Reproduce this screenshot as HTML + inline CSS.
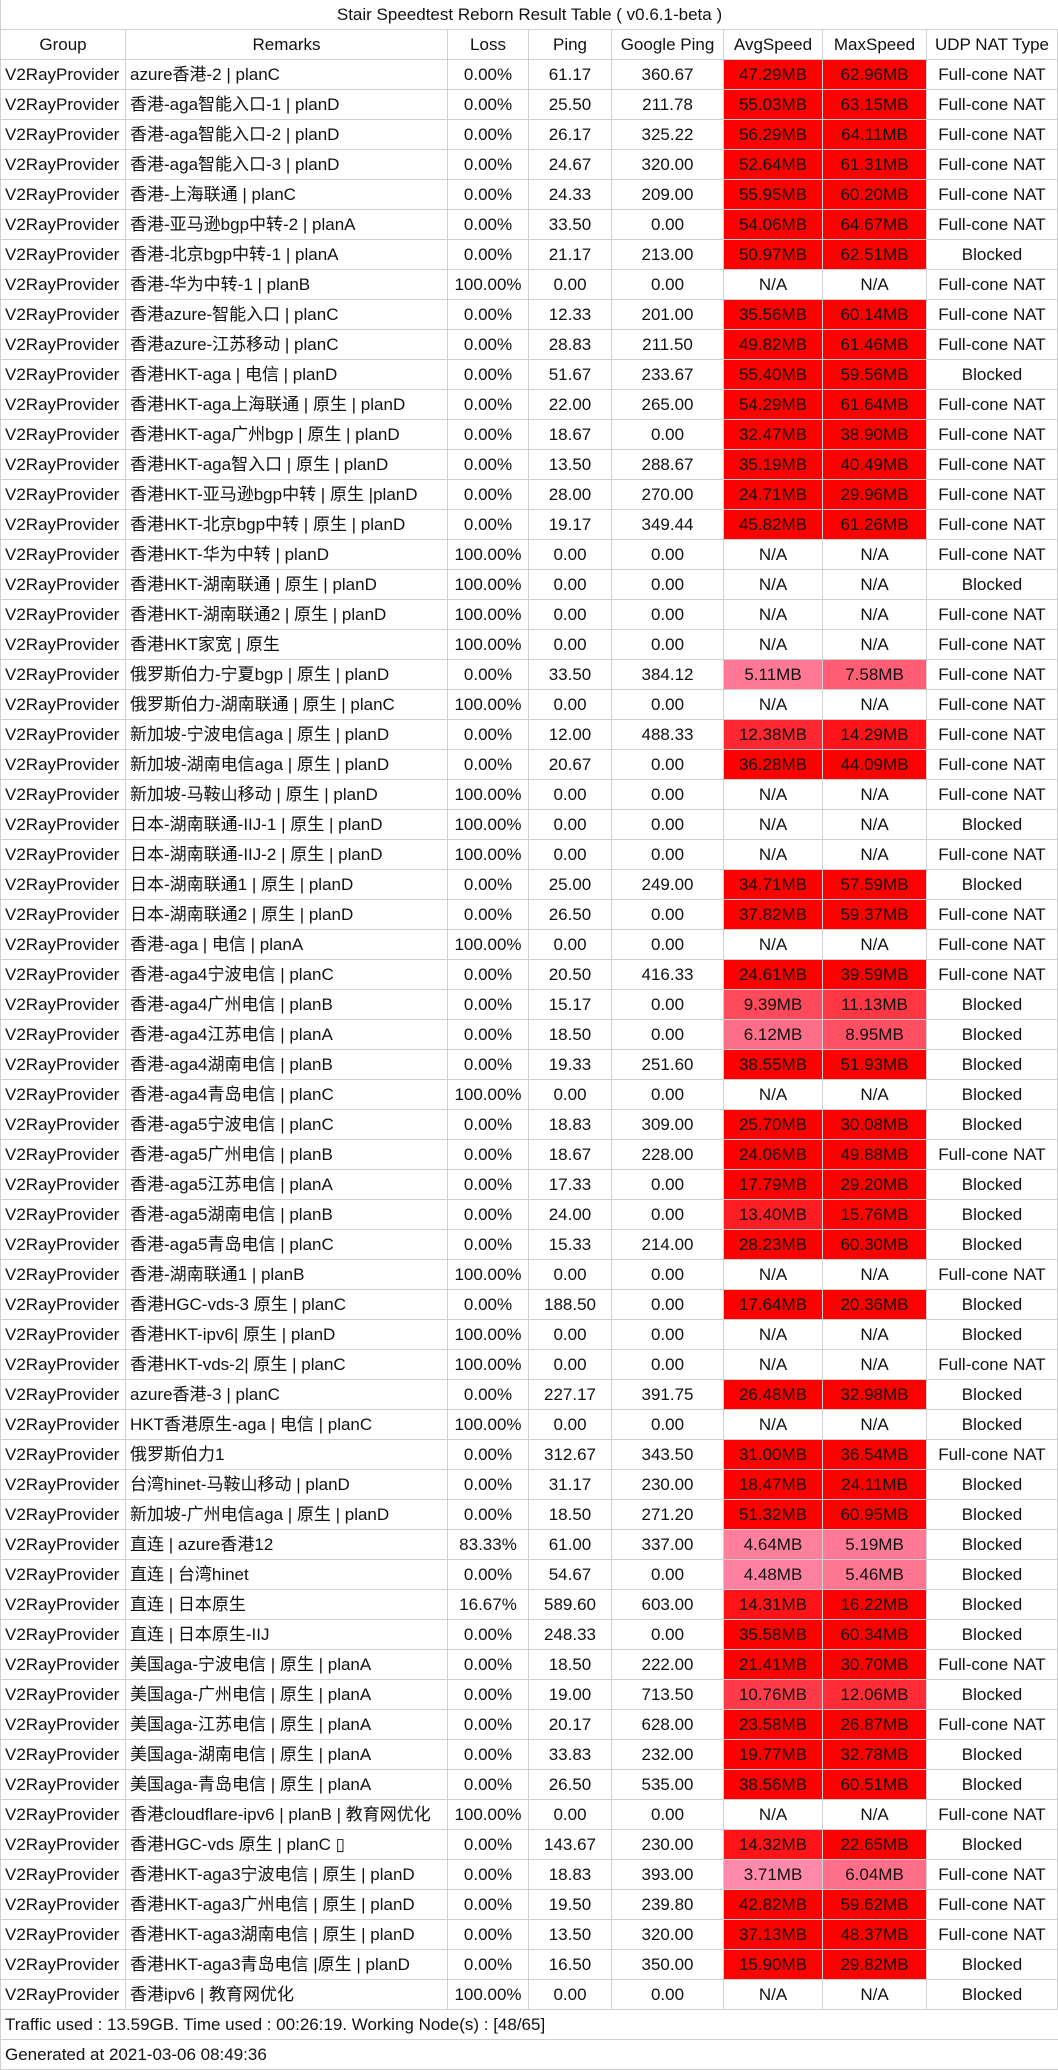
<!DOCTYPE html>
<html><head><meta charset="utf-8">
<style>
html,body{margin:0;padding:0;background:#fff;}
body{width:1058px;height:2070px;position:relative;overflow:hidden;font-family:"Liberation Sans","Noto Sans CJK SC",sans-serif;font-size:17px;color:#111;}
.row{position:absolute;left:0;width:1058px;height:30px;}
.c{position:absolute;top:0;height:29px;line-height:29px;border-right:1px solid #d0d0d0;border-bottom:1px solid #d0d0d0;text-align:center;white-space:nowrap;overflow:hidden;box-sizing:content-box;}
.l{text-align:left;padding-left:4px;}
#wrap{position:absolute;left:0;top:0;width:1057px;height:2070px;border-left:1px solid #d0d0d0;}
</style></head><body>
<div id="wrap"></div>
<script>
const remarks=["azure香港-2 | planC","香港-aga智能入口-1 | planD","香港-aga智能入口-2 | planD","香港-aga智能入口-3 | planD","香港-上海联通 | planC","香港-亚马逊bgp中转-2 | planA","香港-北京bgp中转-1 | planA","香港-华为中转-1 | planB","香港azure-智能入口 | planC","香港azure-江苏移动 | planC","香港HKT-aga | 电信 | planD","香港HKT-aga上海联通 | 原生 | planD","香港HKT-aga广州bgp | 原生 | planD","香港HKT-aga智入口 | 原生 | planD","香港HKT-亚马逊bgp中转 | 原生 |planD","香港HKT-北京bgp中转 | 原生 | planD","香港HKT-华为中转 | planD","香港HKT-湖南联通 | 原生 | planD","香港HKT-湖南联通2 | 原生 | planD","香港HKT家宽 | 原生","俄罗斯伯力-宁夏bgp | 原生 | planD","俄罗斯伯力-湖南联通 | 原生 | planC","新加坡-宁波电信aga | 原生 | planD","新加坡-湖南电信aga | 原生 | planD","新加坡-马鞍山移动 | 原生 | planD","日本-湖南联通-IIJ-1 | 原生 | planD","日本-湖南联通-IIJ-2 | 原生 | planD","日本-湖南联通1 | 原生 | planD","日本-湖南联通2 | 原生 | planD","香港-aga | 电信 | planA","香港-aga4宁波电信 | planC","香港-aga4广州电信 | planB","香港-aga4江苏电信 | planA","香港-aga4湖南电信 | planB","香港-aga4青岛电信 | planC","香港-aga5宁波电信 | planC","香港-aga5广州电信 | planB","香港-aga5江苏电信 | planA","香港-aga5湖南电信 | planB","香港-aga5青岛电信 | planC","香港-湖南联通1 | planB","香港HGC-vds-3 原生 | planC","香港HKT-ipv6| 原生 | planD","香港HKT-vds-2| 原生 | planC","azure香港-3 | planC","HKT香港原生-aga | 电信 | planC","俄罗斯伯力1","台湾hinet-马鞍山移动 | planD","新加坡-广州电信aga | 原生 | planD","直连 | azure香港12","直连 | 台湾hinet","直连 | 日本原生","直连 | 日本原生-IIJ","美国aga-宁波电信 | 原生 | planA","美国aga-广州电信 | 原生 | planA","美国aga-江苏电信 | 原生 | planA","美国aga-湖南电信 | 原生 | planA","美国aga-青岛电信 | 原生 | planA","香港cloudflare-ipv6 | planB | 教育网优化","香港HGC-vds 原生 | planC ▯","香港HKT-aga3宁波电信 | 原生 | planD","香港HKT-aga3广州电信 | 原生 | planD","香港HKT-aga3湖南电信 | 原生 | planD","香港HKT-aga3青岛电信 |原生 | planD","香港ipv6 | 教育网优化"];
const loss=["0.00%","0.00%","0.00%","0.00%","0.00%","0.00%","0.00%","100.00%","0.00%","0.00%","0.00%","0.00%","0.00%","0.00%","0.00%","0.00%","100.00%","100.00%","100.00%","100.00%","0.00%","100.00%","0.00%","0.00%","100.00%","100.00%","100.00%","0.00%","0.00%","100.00%","0.00%","0.00%","0.00%","0.00%","100.00%","0.00%","0.00%","0.00%","0.00%","0.00%","100.00%","0.00%","100.00%","100.00%","0.00%","100.00%","0.00%","0.00%","0.00%","83.33%","0.00%","16.67%","0.00%","0.00%","0.00%","0.00%","0.00%","0.00%","100.00%","0.00%","0.00%","0.00%","0.00%","0.00%","100.00%"];
const ping=[61.17,25.50,26.17,24.67,24.33,33.50,21.17,0,12.33,28.83,51.67,22.00,18.67,13.50,28.00,19.17,0,0,0,0,33.50,0,12.00,20.67,0,0,0,25.00,26.50,0,20.50,15.17,18.50,19.33,0,18.83,18.67,17.33,24.00,15.33,0,188.50,0,0,227.17,0,312.67,31.17,18.50,61.00,54.67,589.60,248.33,18.50,19.00,20.17,33.83,26.50,0,143.67,18.83,19.50,13.50,16.50,0];
const gping=[360.67,211.78,325.22,320.00,209.00,0,213.00,0,201.00,211.50,233.67,265.00,0,288.67,270.00,349.44,0,0,0,0,384.12,0,488.33,0,0,0,0,249.00,0,0,416.33,0,0,251.60,0,309.00,228.00,0,0,214.00,0,0,0,0,391.75,0,343.50,230.00,271.20,337.00,0,603.00,0,222.00,713.50,628.00,232.00,535.00,0,230.00,393.00,239.80,320.00,350.00,0];
const avgSpeed=[47.29,55.03,56.29,52.64,55.95,54.06,50.97,null,35.56,49.82,55.40,54.29,32.47,35.19,24.71,45.82,null,null,null,null,5.11,null,12.38,36.28,null,null,null,34.71,37.82,null,24.61,9.39,6.12,38.55,null,25.70,24.06,17.79,13.40,28.23,null,17.64,null,null,26.48,null,31.00,18.47,51.32,4.64,4.48,14.31,35.58,21.41,10.76,23.58,19.77,38.56,null,14.32,3.71,42.82,37.13,15.90,null];
const maxSpeed=[62.96,63.15,64.11,61.31,60.20,64.67,62.51,null,60.14,61.46,59.56,61.64,38.90,40.49,29.96,61.26,null,null,null,null,7.58,null,14.29,44.09,null,null,null,57.59,59.37,null,39.59,11.13,8.95,51.93,null,30.08,49.88,29.20,15.76,60.30,null,20.36,null,null,32.98,null,36.54,24.11,60.95,5.19,5.46,16.22,60.34,30.70,12.06,26.87,32.78,60.51,null,22.65,6.04,59.62,48.37,29.82,null];
const nat="FFFFFFBFFFBFFFFFFBFFFFFFFBFBFFFBBBBBFBBBFBBFBBFBBBBBBFBFBBFBFFFBB".split("");
const cols=[[0,125,"Group"],[125,322,"Remarks"],[447,81,"Loss"],[528,83,"Ping"],[611,112,"Google Ping"],[723,99,"AvgSpeed"],[822,104,"MaxSpeed"],[926,131,"UDP NAT Type"]];
const wrap=document.getElementById('wrap');
function color(v){const t=Math.max(0,Math.min(1,(v-3)/13));const g=Math.round(145*(1-t)),b=Math.round(180*(1-t));return `rgb(255,${g},${b})`;}
function mkRow(i,name){const r=document.createElement('div');r.className='row';r.style.top=(i*30)+'px';


wrap.appendChild(r);return r;}
function mkCell(r,x,w,txt,name,cls,bg){const c=document.createElement('div');c.className='c'+(cls?' '+cls:'');c.style.left=x+'px';c.style.width=(w-1-(cls?4:0))+'px';c.textContent=txt;if(bg)c.style.background=bg;


r.appendChild(c);return c;}
let r=mkRow(0,'table-title');r.style.borderTop='1px solid #d0d0d0';r.style.top='-1px';r.style.height='31px';
let t=mkCell(r,0,1058,"Stair Speedtest Reborn Result Table ( v0.6.1-beta )",'title-text');t.style.height='29px';
r=mkRow(1,'header-row');
cols.forEach(c=>mkCell(r,c[0],c[1],c[2],'header-'+c[2].toLowerCase().replace(/ /g,'-')));
for(let i=0;i<remarks.length;i++){
 r=mkRow(i+2,'node-row');
 const a=avgSpeed[i],m=maxSpeed[i];
 const vals=["V2RayProvider",remarks[i],loss[i],ping[i].toFixed(2),gping[i].toFixed(2),a==null?"N/A":a.toFixed(2)+"MB",m==null?"N/A":m.toFixed(2)+"MB",nat[i]=="F"?"Full-cone NAT":"Blocked"];
 const names=['group-cell','remarks-cell','loss-cell','ping-cell','google-ping-cell','avg-speed-cell','max-speed-cell','nat-type-cell'];
 cols.forEach((c,j)=>{
  let bg=null;if(j==5&&a!=null)bg=color(a);if(j==6&&m!=null)bg=color(m);
  mkCell(r,c[0],c[1],vals[j],names[j],(j<2?'l':''),bg);
 });
}
r=mkRow(67,'footer-traffic');mkCell(r,0,1058,"Traffic used : 13.59GB. Time used : 00:26:19. Working Node(s) : [48/65]",'traffic-summary','l');
r=mkRow(68,'footer-generated');mkCell(r,0,1058,"Generated at 2021-03-06 08:49:36",'generated-time','l');
</script>
</body></html>
